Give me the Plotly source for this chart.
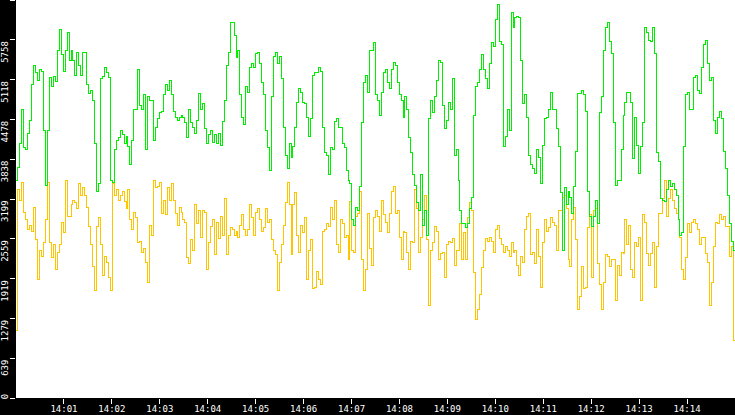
import pandas as pd
import plotly.graph_objects as go

# sampled values, ~2.5 s apart, 14:00 -> 14:15
green_vals = [
    3504, 3713, 4099, 4630, 4019, 3987, 4260, 4469, 5032, 5353, 5225, 5112, 5273, 5241, 4308, 3424,
    4308, 5160, 5000, 5176, 5080, 5594, 5916, 5514, 5241, 5594, 5868, 5433, 5594, 5433, 5192, 5562,
    5353, 5192, 5562, 5562, 5032, 4903, 4951, 4790, 4099, 3312, 3456, 5144, 5176, 5305, 5225, 5160,
    3504, 3472, 3987, 4147, 4180, 4308, 4228, 4099, 4196, 4035, 3746, 4147, 4630, 4630,
    5273, 4710, 4630, 4871, 3987, 4839, 4790, 4790, 4147, 4356, 4501, 4582, 4598, 4871, 5032, 4951,
    5112, 4871, 4598, 4517, 4469, 4517, 4549, 4517, 4421, 4180, 4630, 4421, 4356, 4260, 4469, 4903,
    4630, 4742, 4340, 4099, 4228, 4308, 4115, 4228, 4099, 4260, 4067, 4437, 4790, 5353, 5562, 6044,
    6044, 5835, 5466, 5594, 4871, 4517, 4389, 5000, 4919, 5305, 5385, 5321, 5546,
    5562, 5385, 5064, 4871, 4308, 4019, 3665, 4839, 5482, 5562, 5385, 5482, 5144, 4356, 3906, 3697,
    4099, 3874, 4035, 4356, 4758, 4983, 4919, 4758, 4742, 4517, 4196, 4501, 5192, 5225, 5225, 5305,
    5241, 4356, 3939, 3906, 3585, 4019, 3987, 4437, 4501, 4356, 4356, 4099, 4019, 3665, 3504, 3456,
    2862, 2781, 3068, 3022, 3392, 4421, 5064, 5192, 4919, 5594, 5594, 5707, 4871, 4790,
    4549, 4919, 5225, 5273, 5064, 4983, 5273, 5401, 5353, 5064, 4871, 4790, 4517, 4839, 4630, 4180,
    3939, 3585, 3424, 3135, 3022, 3585, 2781, 3022, 2620, 4501, 4790, 4582, 4839, 5112, 5433, 5401,
    4710, 4340, 4469, 4758, 4630, 5144, 3906, 3987, 3504, 3022, 2813, 2813, 2733, 2813, 3054, 3231,
    4549, 5000, 5064, 5273, 5514, 5273, 5144, 4983, 5385, 5707, 5643, 6077, 6318,
    5723, 5675, 4035, 4196, 4630, 4308, 6205, 5964, 6109, 6125, 6109, 5433, 4742, 4871, 4517, 3906,
    3746, 3697, 3617, 3987, 3874, 3456, 4067, 4501, 4517, 4630, 4919, 4630, 4630, 4340, 4035, 3296,
    2379, 3376, 3103, 3312, 3231, 2974, 3392, 3955, 4903, 4903, 4951, 4871, 4598, 3312, 2910, 2749,
    2910, 3183, 2813, 4582, 4839, 5594, 5948, 6044, 5723, 5546, 4421, 3424, 3504,
    3504, 3987, 4549, 4758, 4919, 4919, 4758, 3858, 4517, 4067, 3617, 4035, 4421, 5964, 5868, 5755,
    5723, 5948, 5546, 3939, 3794, 3215, 3183, 3151, 3344, 3504, 3392, 3456, 3344, 3263, 2862, 2620,
    2653, 4035, 4871, 4919, 4630, 4630, 5160, 5192, 4951, 4903, 5305, 5675, 5755, 5385, 5112, 5160,
    4469, 4260, 4517, 4598, 4501, 3955, 3697, 3263, 2813, 2508, 2379, 2299,
]

orange_vals = [
    1093, 3344, 3183, 3472, 2990, 2862, 2701, 2781, 2669, 3068, 2540, 1897, 2379, 2267, 2492, 2862,
    3472, 2492, 2251, 2460, 2058, 2347, 2460, 2829, 2653, 3504, 2910, 2910, 3103, 3183, 3135, 3054,
    3456, 3263, 3376, 3263, 3068, 2749, 2460, 2106, 1736, 2749, 2894, 2460, 1977, 2267, 2185, 1945,
    1736, 3456, 3263, 3344, 3183, 3263, 3312, 3151, 3054, 3344, 2862, 2701, 2990, 2894,
    2492, 2508, 2347, 2411, 2185, 1849, 2781, 2620, 3504, 3376, 3392, 3472, 2974, 3183, 2942, 3376,
    3183, 3456, 3183, 2974, 2781, 3068, 2990, 2862, 2829, 2251, 2170, 2540, 2379, 3103, 2813, 3022,
    2588, 3022, 2990, 2058, 2492, 2749, 2862, 2299, 2829, 2572, 2910, 2620, 3215, 2299, 2620, 2733,
    2701, 2620, 2669, 2588, 2781, 2942, 2701, 2620, 2701, 3103, 2894, 2620, 2990,
    3054, 2862, 2669, 2733, 3054, 2829, 2862, 2540, 2379, 2299, 1736, 2185, 2460, 2781, 3135, 3472,
    3103, 2299, 3103, 3296, 2620, 2347, 2781, 2653, 2894, 1897, 2379, 2540, 1768, 1784, 2026, 1897,
    1817, 2669, 2701, 2813, 2749, 3068, 2862, 3183, 2460, 2347, 2862, 2813, 2588, 2620, 2219, 3151,
    2379, 2347, 2910, 2974, 3312, 2219, 1736, 2058, 2974, 2411, 2138, 2894, 3022, 2910,
    2669, 3183, 2942, 2829, 2653, 2974, 3312, 3392, 2974, 3022, 2588, 2219, 2669, 2653, 2347, 2058,
    2508, 2492, 3344, 3054, 2347, 2588, 2862, 3263, 2540, 1495, 2379, 2492, 2749, 2669, 2219, 2331,
    2347, 1945, 2460, 2508, 2492, 2572, 2138, 2379, 2379, 2813, 2219, 2653, 2219, 2894, 3135, 3022,
    2010, 1254, 1415, 1656, 2090, 2379, 2572, 2508, 2588, 2508, 2347, 2701, 2781,
    2572, 2460, 2347, 2428, 2379, 2267, 2492, 2347, 2379, 2138, 1977, 2267, 2185, 2701, 2910, 2974,
    2299, 2347, 2170, 2701, 2267, 1784, 2492, 2862, 2669, 2733, 2894, 2829, 2781, 2379, 3022, 3022,
    3231, 3263, 3054, 2219, 2106, 2862, 3068, 2540, 1415, 1624, 2106, 1768, 1784, 2733, 2942, 1945,
    3022, 3054, 2170, 1817, 1415, 1849, 2299, 2267, 2106, 2219, 2219, 1575, 2138,
    1977, 2347, 2331, 2862, 2460, 2781, 2058, 1945, 2492, 2428, 2588, 1575, 2942, 2829, 2331, 2138,
    2331, 2492, 1784, 2428, 2974, 2974, 3215, 3504, 2910, 3215, 3344, 3183, 3054, 2974, 2862, 2588,
    2058, 1897, 2251, 2813, 2653, 2829, 2862, 2813, 2701, 2460, 2588, 2588, 2331, 2185, 1495, 1849,
    2428, 2829, 2813, 2942, 2862, 2910, 2749, 2749, 2267, 2428, 932, 0,
]

y_ticks = [0, 639.8, 1279.6, 1919.4, 2559.2, 3199, 3838.8, 4478.6, 5118.4, 5758.2, 6398]
y_tick_labels = ["0", "639", "1279", "1919", "2559", "3199", "3838", "4478", "5118", "5758", "6398"]
x_tick_labels = ["14:%02d" % m for m in range(1, 15)]

n = min(len(green_vals), len(orange_vals))
times = pd.date_range("2024-01-01 14:00:00", "2024-01-01 14:15:00", periods=n)
x_ticks = [pd.Timestamp("2024-01-01 " + t) for t in x_tick_labels]

# rotated labels sit just under their tick: pad the (upper) end with nbsp
nb = "\u00a0"
y_text = [y_tick_labels[0]] + [s + nb * (len(s) + 1) for s in y_tick_labels[1:]]

fig = go.Figure()
fig.add_trace(go.Scatter(x=times, y=orange_vals[:n], mode="lines",
                         line=dict(color="#ffc400", width=1, shape="hv"),
                         showlegend=False, hoverinfo="skip"))
fig.add_trace(go.Scatter(x=times, y=green_vals[:n], mode="lines",
                         line=dict(color="#00ee00", width=1, shape="hv"),
                         showlegend=False, hoverinfo="skip"))

fig.update_layout(
    width=735, height=415,
    margin=dict(l=16, r=0, t=0, b=17),
    paper_bgcolor="black",
    plot_bgcolor="white",
    font=dict(family="DejaVu Sans Mono", size=9, color="white"),
    xaxis=dict(
        type="date",
        range=[times[0], times[-1]],
        tickvals=x_ticks, ticktext=x_tick_labels,
        ticks="outside", ticklen=5, tickcolor="white", tickwidth=1,
        ticklabelstandoff=-3,
        showgrid=False, zeroline=False, showline=False,
        automargin=False,
    ),
    yaxis=dict(
        range=[0, 6398],
        tickvals=y_ticks, ticktext=y_text,
        tickangle=-90,
        ticks="outside", ticklen=5, tickcolor="white", tickwidth=1,
        ticklabelstandoff=-2,
        showgrid=False, zeroline=False, showline=False,
        automargin=False,
    ),
)

# page has default 8px body margin; drop it, and keep the 1px lines sharp
js = (
    "document.body.style.margin='0';"
    "document.querySelectorAll('.scatterlayer path.js-line').forEach("
    "function(p){p.style.shapeRendering='crispEdges';});"
)
fig.write_html("out.html", post_script=js, config={"displayModeBar": False})
